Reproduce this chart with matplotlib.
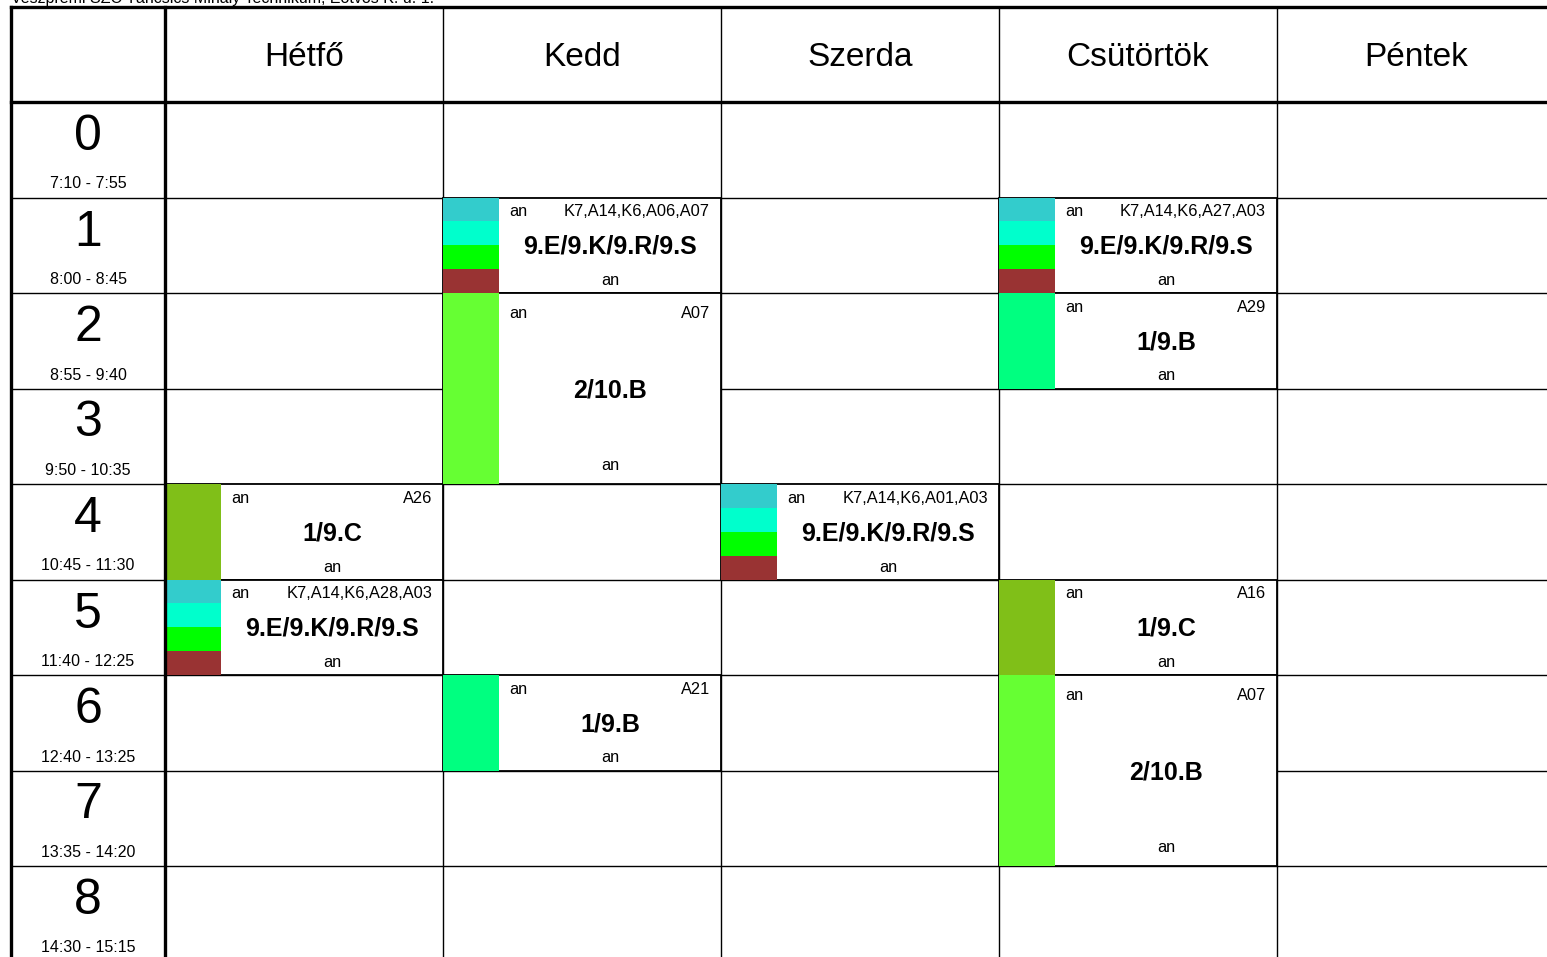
import matplotlib
matplotlib.use("Agg")
import matplotlib.pyplot as plt
from matplotlib.patches import Rectangle

plt.rcParams['font.family'] = ['Liberation Sans', 'DejaVu Sans']

# ---- data ----
title = "Veszprémi SZC Táncsics Mihály Technikum, Eötvös K. u. 1."
days = ["Hétfő", "Kedd", "Szerda", "Csütörtök", "Péntek"]
periods = [0, 1, 2, 3, 4, 5, 6, 7, 8]
times = ["7:10 - 7:55", "8:00 - 8:45", "8:55 - 9:40", "9:50 - 10:35",
         "10:45 - 11:30", "11:40 - 12:25", "12:40 - 13:25", "13:35 - 14:20",
         "14:30 - 15:15"]

# one entry per lesson
lesson_day = [1, 1, 1, 0, 0, 2, 3, 3, 3, 3]
lesson_start = [1, 2, 6, 4, 5, 4, 1, 2, 5, 6]
lesson_span = [1, 2, 1, 1, 1, 1, 1, 1, 1, 2]
lesson_group = ["9.E/9.K/9.R/9.S", "2/10.B", "1/9.B", "1/9.C", "9.E/9.K/9.R/9.S",
                "9.E/9.K/9.R/9.S", "9.E/9.K/9.R/9.S", "1/9.B", "1/9.C", "2/10.B"]
lesson_room = ["K7,A14,K6,A06,A07", "A07", "A21", "A26", "K7,A14,K6,A28,A03",
               "K7,A14,K6,A01,A03", "K7,A14,K6,A27,A03", "A29", "A16", "A07"]
lesson_teacher = ["an"] * 10

mixed = ["#33CCCC", "#00FFCC", "#00FF00", "#993333"]
lesson_colors = [mixed, ["#66FF33"], ["#00FF80"], ["#80BF18"], mixed,
                 mixed, mixed, ["#00FF80"], ["#80BF18"], ["#66FF33"]]

# ---- layout (pixels) ----
W, H = 1547, 957
X0, TIME_W, DAY_W = 11, 154, 278
Y0, HEAD_H, ROW_H = 7, 95, 95.5
STRIP_W = 56
THIN, THICK = 1.0, 2.4

fig = plt.figure(figsize=(W / 100, H / 100), dpi=100)
ax = fig.add_axes([0, 0, 1, 1])
ax.set_xlim(0, W)
ax.set_ylim(H, 0)
ax.axis("off")

body_top = Y0 + HEAD_H
x_days = [X0 + TIME_W + i * DAY_W for i in range(len(days) + 1)]
y_rows = [body_top + i * ROW_H for i in range(len(periods) + 1)]
right = x_days[-1]
bottom = y_rows[-1]

# title line sits above the table and is clipped by the top edge, as in the original
ax.text(X0, 3.5, title, fontsize=11.5, ha="left", va="baseline", color="black")

# grid
for y in y_rows[1:]:
    ax.plot([X0, right], [y, y], color="black", lw=THIN, zorder=1)
for x in x_days[1:]:
    ax.plot([x, x], [Y0, bottom], color="black", lw=THIN, zorder=1)
ax.plot([X0, right], [Y0, Y0], color="black", lw=THICK, zorder=5)
ax.plot([X0, right], [body_top, body_top], color="black", lw=THICK, zorder=5)
ax.plot([X0, X0], [Y0, bottom], color="black", lw=THICK, zorder=5)
ax.plot([x_days[0], x_days[0]], [Y0, bottom], color="black", lw=THICK, zorder=5)

# header
for i, d in enumerate(days):
    ax.text((x_days[i] + x_days[i + 1]) / 2, Y0 + 50, d, fontsize=24,
            ha="center", va="center")

# period column
for i, p in enumerate(periods):
    yt = y_rows[i]
    ax.text(X0 + TIME_W / 2, yt + 35, str(p), fontsize=36, ha="center", va="center")
    ax.text(X0 + TIME_W / 2, yt + 82, times[i], fontsize=11.5, ha="center", va="center")

# lessons
for k in range(len(lesson_day)):
    xl = x_days[lesson_day[k]]
    yt = y_rows[lesson_start[k]]
    span = lesson_span[k]
    h = ROW_H * span
    ax.add_patch(Rectangle((xl, yt), DAY_W, h, facecolor="white",
                           edgecolor="black", lw=1.3, zorder=2))
    cols = lesson_colors[k]
    sh = h / len(cols)
    for j, c in enumerate(cols):
        ax.add_patch(Rectangle((xl, yt + j * sh), STRIP_W, sh, facecolor=c,
                               edgecolor="none", zorder=3))
    pad = 13.5 + 5.5 * (span - 1)
    cx = xl + STRIP_W + (DAY_W - STRIP_W) / 2
    ax.text(xl + STRIP_W + 10, yt + pad + 1, lesson_teacher[k], fontsize=11.8,
            ha="left", va="center", zorder=4)
    ax.text(xl + DAY_W - 11, yt + pad + 1, lesson_room[k], fontsize=11.8,
            ha="right", va="center", zorder=4)
    ax.text(cx, yt + h / 2 + 1.5, lesson_group[k], fontsize=18, fontweight="bold",
            ha="center", va="center", zorder=4)
    ax.text(cx, yt + h - pad + 1, lesson_teacher[k], fontsize=11.8,
            ha="center", va="center", zorder=4)

fig.savefig("out.png", dpi=100)
